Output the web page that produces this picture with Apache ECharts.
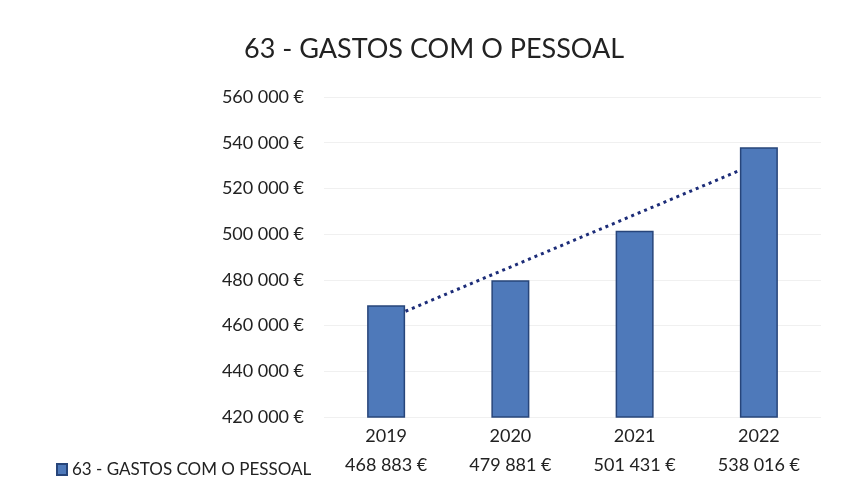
<!DOCTYPE html>
<html>
<head>
<meta charset="utf-8">
<script src="https://cdn.jsdelivr.net/npm/echarts@6/dist/echarts.min.js"></script>
<style>
  html, body { margin: 0; padding: 0; background: #fff; }
  #chart { width: 843px; height: 486px; }
</style>
</head>
<body>
<div id="chart"></div>
<script>
var seriesName = '63 - GASTOS COM O PESSOAL';
var years = ['2019', '2020', '2021', '2022'];
var gastos = [468883, 479881, 501431, 538016];
// linear trend
var trendValues = [462700, 485600, 508500, 531400];

var fontFamily = 'Lato, "Open Sans", sans-serif';

function formatEuro(v) {
  return String(v).replace(/\B(?=(\d{3})+(?!\d))/g, '\u202f') + '\u202f€';
}

var myChart = echarts.init(document.getElementById('chart'));

var option = {
  backgroundColor: '#fff',
  animation: false,
  textStyle: { fontFamily: fontFamily, color: '#222' },
  title: {
    text: seriesName,
    left: 239,
    top: 31,
    textStyle: { fontSize: 27, fontWeight: 'normal', color: '#222', fontFamily: fontFamily }
  },
  legend: {
    data: [seriesName],
    left: 51,
    top: 456,
    icon: 'rect',
    itemWidth: 10,
    itemHeight: 11,
    itemGap: 5,
    textStyle: { fontSize: 17, color: '#222', fontFamily: fontFamily }
  },
  grid: {
    left: 324,
    right: 22,
    top: 97,
    bottom: 69
  },
  xAxis: [
    {
      type: 'category',
      data: years,
      axisLine: { show: false },
      axisTick: { show: false },
      axisLabel: { fontSize: 18, color: '#222', margin: 10 }
    },
    {
      type: 'category',
      data: gastos.map(formatEuro),
      position: 'bottom',
      offset: 30,
      axisLine: { show: false },
      axisTick: { show: false },
      axisLabel: { fontSize: 18, color: '#222', margin: 9 }
    }
  ],
  yAxis: {
    type: 'value',
    min: 420000,
    max: 560000,
    interval: 20000,
    axisLine: { show: false },
    axisTick: { show: false },
    splitLine: { lineStyle: { color: '#f0f0f0' } },
    axisLabel: {
      fontSize: 18,
      color: '#222',
      margin: 20,
      formatter: formatEuro
    }
  },
  series: [
    {
      name: seriesName,
      type: 'bar',
      xAxisIndex: 0,
      data: gastos,
      barWidth: 38,
      z: 3,
      itemStyle: {
        color: '#4e79ba',
        borderColor: '#27457a',
        borderWidth: 1.5
      }
    },
    {
      name: 'Linear',
      type: 'line',
      xAxisIndex: 0,
      data: trendValues,
      symbol: 'none',
      z: 2,
      lineStyle: {
        color: '#1c2c78',
        width: 3,
        type: [3, 4]
      }
    }
  ]
};

myChart.setOption(option);
</script>
</body>
</html>
